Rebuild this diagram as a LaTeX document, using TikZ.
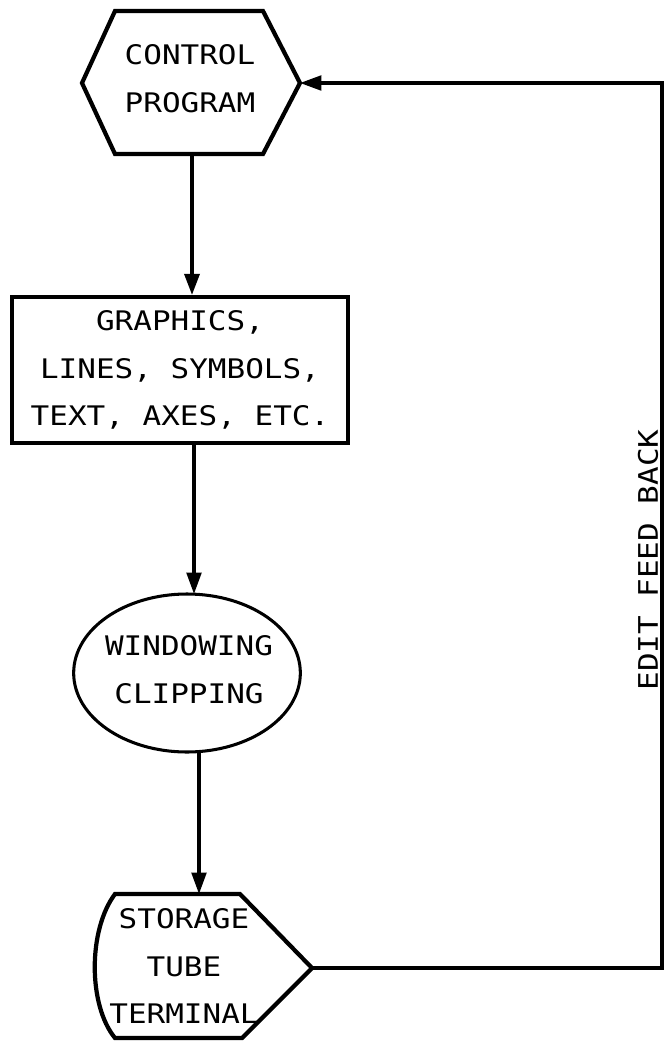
\documentclass[tikz,border=0pt]{standalone}
\usepackage{fontspec}
\setmainfont{DejaVu Sans Mono}[FakeStretch=1.15]
\usetikzlibrary{arrows.meta}

\tikzset{
	lbl/.style={align=center, font=\fontsize{11.5}{20.4}\selectfont, inner sep=0pt},
	heavy/.style={line width=1.8pt, line join=miter},
	light/.style={line width=1.3pt},
	flow/.style={-{Triangle[length=0.32cm, width=0.22cm]}},
}

\begin{document}
\begin{tikzpicture}[x=0.015cm, y=-0.015cm]
	\useasboundingbox (0,0) rectangle (664,1043);
	% control program
	\draw[heavy] (82,83) -- (115,11) -- (263,11) -- (300,83) -- (263,154) -- (115,154) -- cycle;
	\node[lbl] (ctrl) at (190,79) {CONTROL\\PROGRAM};
	\coordinate (ctrlS) at (192,154);
	\coordinate (ctrlE) at (300,83);
	% graphics
	\node[lbl, draw, heavy, minimum width=5.04cm, minimum height=2.18cm] (gfx) at (180,370) {GRAPHICS,\\LINES, SYMBOLS,\\TEXT, AXES, ETC.};
	% windowing
	\draw[light] (187,673) ellipse [x radius=1.70cm, y radius=1.185cm];
	\node[lbl] (win) at (189,670) {WINDOWING\\CLIPPING};
	\coordinate (winN) at (194,594);
	\coordinate (winS) at (199,752);
	% terminal
	\draw[heavy] (115,894) -- (240,894) -- (312,968) -- (242,1038) -- (115,1038) .. controls (88,1005) and (88,930) .. cycle;
	\node[lbl] (term) at (184,966) {STORAGE\\TUBE\\TERMINAL};
	\coordinate (termN) at (199,894);
	\coordinate (termE) at (312,968);
	% connectors
	\draw[heavy, flow] (ctrlS) -- (ctrlS |- gfx.north);
	\draw[light, flow] (winN |- gfx.south) -- (winN);
	\draw[light, flow] (winS) -- (termN);
	\draw[light, flow] (termE) -- ++(350,0) |- (ctrlE);
	\node[lbl, rotate=90] (edit) at (648,560) {EDIT FEED BACK};
\end{tikzpicture}
\end{document}
